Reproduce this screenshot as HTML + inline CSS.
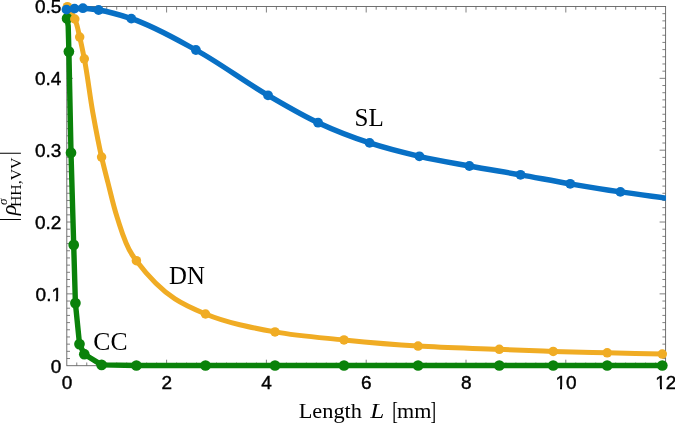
<!DOCTYPE html>
<html lang="en"><head><meta charset="utf-8"><title>Plot</title>
<style>html,body{margin:0;padding:0;background:#fff}body{width:675px;height:423px;overflow:hidden}svg{display:block}</style>
</head><body>
<svg width="675" height="423" viewBox="0 0 675 423">
<rect width="675" height="423" fill="#fff"/>
<path d="M76.78 365.70 v-3.20 M76.78 6.50 v3.20 M86.76 365.70 v-3.20 M86.76 6.50 v3.20 M96.74 365.70 v-3.20 M96.74 6.50 v3.20 M106.72 365.70 v-3.20 M106.72 6.50 v3.20 M116.70 365.70 v-3.20 M116.70 6.50 v3.20 M126.68 365.70 v-3.20 M126.68 6.50 v3.20 M136.66 365.70 v-3.20 M136.66 6.50 v3.20 M146.64 365.70 v-3.20 M146.64 6.50 v3.20 M156.62 365.70 v-3.20 M156.62 6.50 v3.20 M166.60 365.70 v-6.00 M166.60 6.50 v6.00 M176.58 365.70 v-3.20 M176.58 6.50 v3.20 M186.56 365.70 v-3.20 M186.56 6.50 v3.20 M196.54 365.70 v-3.20 M196.54 6.50 v3.20 M206.52 365.70 v-3.20 M206.52 6.50 v3.20 M216.50 365.70 v-3.20 M216.50 6.50 v3.20 M226.48 365.70 v-3.20 M226.48 6.50 v3.20 M236.46 365.70 v-3.20 M236.46 6.50 v3.20 M246.44 365.70 v-3.20 M246.44 6.50 v3.20 M256.42 365.70 v-3.20 M256.42 6.50 v3.20 M266.40 365.70 v-6.00 M266.40 6.50 v6.00 M276.38 365.70 v-3.20 M276.38 6.50 v3.20 M286.36 365.70 v-3.20 M286.36 6.50 v3.20 M296.34 365.70 v-3.20 M296.34 6.50 v3.20 M306.32 365.70 v-3.20 M306.32 6.50 v3.20 M316.30 365.70 v-3.20 M316.30 6.50 v3.20 M326.28 365.70 v-3.20 M326.28 6.50 v3.20 M336.26 365.70 v-3.20 M336.26 6.50 v3.20 M346.24 365.70 v-3.20 M346.24 6.50 v3.20 M356.22 365.70 v-3.20 M356.22 6.50 v3.20 M366.20 365.70 v-6.00 M366.20 6.50 v6.00 M376.18 365.70 v-3.20 M376.18 6.50 v3.20 M386.16 365.70 v-3.20 M386.16 6.50 v3.20 M396.14 365.70 v-3.20 M396.14 6.50 v3.20 M406.12 365.70 v-3.20 M406.12 6.50 v3.20 M416.10 365.70 v-3.20 M416.10 6.50 v3.20 M426.08 365.70 v-3.20 M426.08 6.50 v3.20 M436.06 365.70 v-3.20 M436.06 6.50 v3.20 M446.04 365.70 v-3.20 M446.04 6.50 v3.20 M456.02 365.70 v-3.20 M456.02 6.50 v3.20 M466.00 365.70 v-6.00 M466.00 6.50 v6.00 M475.98 365.70 v-3.20 M475.98 6.50 v3.20 M485.96 365.70 v-3.20 M485.96 6.50 v3.20 M495.94 365.70 v-3.20 M495.94 6.50 v3.20 M505.92 365.70 v-3.20 M505.92 6.50 v3.20 M515.90 365.70 v-3.20 M515.90 6.50 v3.20 M525.88 365.70 v-3.20 M525.88 6.50 v3.20 M535.86 365.70 v-3.20 M535.86 6.50 v3.20 M545.84 365.70 v-3.20 M545.84 6.50 v3.20 M555.82 365.70 v-3.20 M555.82 6.50 v3.20 M565.80 365.70 v-6.00 M565.80 6.50 v6.00 M575.78 365.70 v-3.20 M575.78 6.50 v3.20 M585.76 365.70 v-3.20 M585.76 6.50 v3.20 M595.74 365.70 v-3.20 M595.74 6.50 v3.20 M605.72 365.70 v-3.20 M605.72 6.50 v3.20 M615.70 365.70 v-3.20 M615.70 6.50 v3.20 M625.68 365.70 v-3.20 M625.68 6.50 v3.20 M635.66 365.70 v-3.20 M635.66 6.50 v3.20 M645.64 365.70 v-3.20 M645.64 6.50 v3.20 M655.62 365.70 v-3.20 M655.62 6.50 v3.20 M66.80 358.52 h3.20 M665.60 358.52 h-3.20 M66.80 351.33 h3.20 M665.60 351.33 h-3.20 M66.80 344.15 h3.20 M665.60 344.15 h-3.20 M66.80 336.96 h3.20 M665.60 336.96 h-3.20 M66.80 329.78 h3.20 M665.60 329.78 h-3.20 M66.80 322.60 h3.20 M665.60 322.60 h-3.20 M66.80 315.41 h3.20 M665.60 315.41 h-3.20 M66.80 308.23 h3.20 M665.60 308.23 h-3.20 M66.80 301.04 h3.20 M665.60 301.04 h-3.20 M66.80 293.86 h6.00 M665.60 293.86 h-6.00 M66.80 286.68 h3.20 M665.60 286.68 h-3.20 M66.80 279.49 h3.20 M665.60 279.49 h-3.20 M66.80 272.31 h3.20 M665.60 272.31 h-3.20 M66.80 265.12 h3.20 M665.60 265.12 h-3.20 M66.80 257.94 h3.20 M665.60 257.94 h-3.20 M66.80 250.76 h3.20 M665.60 250.76 h-3.20 M66.80 243.57 h3.20 M665.60 243.57 h-3.20 M66.80 236.39 h3.20 M665.60 236.39 h-3.20 M66.80 229.20 h3.20 M665.60 229.20 h-3.20 M66.80 222.02 h6.00 M665.60 222.02 h-6.00 M66.80 214.84 h3.20 M665.60 214.84 h-3.20 M66.80 207.65 h3.20 M665.60 207.65 h-3.20 M66.80 200.47 h3.20 M665.60 200.47 h-3.20 M66.80 193.28 h3.20 M665.60 193.28 h-3.20 M66.80 186.10 h3.20 M665.60 186.10 h-3.20 M66.80 178.92 h3.20 M665.60 178.92 h-3.20 M66.80 171.73 h3.20 M665.60 171.73 h-3.20 M66.80 164.55 h3.20 M665.60 164.55 h-3.20 M66.80 157.36 h3.20 M665.60 157.36 h-3.20 M66.80 150.18 h6.00 M665.60 150.18 h-6.00 M66.80 143.00 h3.20 M665.60 143.00 h-3.20 M66.80 135.81 h3.20 M665.60 135.81 h-3.20 M66.80 128.63 h3.20 M665.60 128.63 h-3.20 M66.80 121.44 h3.20 M665.60 121.44 h-3.20 M66.80 114.26 h3.20 M665.60 114.26 h-3.20 M66.80 107.08 h3.20 M665.60 107.08 h-3.20 M66.80 99.89 h3.20 M665.60 99.89 h-3.20 M66.80 92.71 h3.20 M665.60 92.71 h-3.20 M66.80 85.52 h3.20 M665.60 85.52 h-3.20 M66.80 78.34 h6.00 M665.60 78.34 h-6.00 M66.80 71.16 h3.20 M665.60 71.16 h-3.20 M66.80 63.97 h3.20 M665.60 63.97 h-3.20 M66.80 56.79 h3.20 M665.60 56.79 h-3.20 M66.80 49.60 h3.20 M665.60 49.60 h-3.20 M66.80 42.42 h3.20 M665.60 42.42 h-3.20 M66.80 35.24 h3.20 M665.60 35.24 h-3.20 M66.80 28.05 h3.20 M665.60 28.05 h-3.20 M66.80 20.87 h3.20 M665.60 20.87 h-3.20 M66.80 13.68 h3.20 M665.60 13.68 h-3.20" stroke="#626262" stroke-width="0.8" fill="none"/>
<rect x="66.80" y="6.50" width="598.80" height="359.20" fill="none" stroke="#626262" stroke-width="0.9"/>
<g fill="none" stroke-linejoin="round" stroke-linecap="round">
<path d="M67.10 18.40 L68.20 26.00 L68.90 51.60 L71.00 152.70 L73.70 244.90 L75.40 303.10 L79.50 344.10 L84.30 354.20 L101.60 364.90 L136.40 365.50 L205.50 365.50 L275.00 365.50 L344.00 365.50 L418.10 365.50 L499.30 365.50 L553.20 365.50 L607.20 365.50 L662.30 365.50" stroke="#0a820a" stroke-width="5.4"/>
<path d="M67.40 6.70 C69.87 10.80 72.86 14.68 74.80 19.00 C77.33 24.65 78.22 31.03 79.70 37.10 C81.45 44.28 82.88 51.55 84.30 58.80 C87.79 76.58 89.60 94.67 92.80 112.50 C95.48 127.41 98.21 142.33 101.60 157.10 C103.55 165.60 105.74 174.05 107.90 182.50 C110.89 194.20 113.43 206.05 117.20 217.50 C121.40 230.28 124.85 243.83 132.30 255.00 C133.59 256.94 135.00 258.83 136.40 260.70 C147.23 275.17 160.07 289.06 175.00 298.90 C184.36 305.07 195.07 309.68 205.50 314.00 C227.49 323.12 251.53 327.57 275.00 331.90 C297.72 336.10 320.96 337.59 344.00 339.90 C368.66 342.37 393.37 344.55 418.10 346.10 C445.13 347.79 472.23 348.24 499.30 349.30 C517.27 350.00 535.23 350.82 553.20 351.40 C571.20 351.98 589.20 352.35 607.20 352.80 C625.57 353.25 643.93 353.67 662.30 354.10" stroke="#f0ac24" stroke-width="5.0"/>
<clipPath id="cp"><rect x="0" y="0" width="665.90" height="423"/></clipPath>
<path clip-path="url(#cp)" d="M66.50 9.60 C69.17 9.27 71.82 8.83 74.50 8.60 C77.29 8.36 80.11 8.18 82.90 8.20 C88.15 8.24 93.41 9.16 98.60 10.00 C109.70 11.79 120.64 15.07 131.30 18.60 C153.94 26.09 174.94 38.49 195.90 50.00 C220.74 63.64 243.45 81.09 268.00 95.30 C284.47 104.83 300.88 114.68 318.10 122.70 C334.78 130.47 352.10 137.17 369.60 142.90 C385.91 148.24 402.66 152.43 419.40 156.30 C435.93 160.12 452.70 162.94 469.40 166.00 C486.40 169.11 503.48 171.79 520.50 174.80 C537.08 177.73 553.61 180.96 570.20 183.80 C586.91 186.66 603.64 189.41 620.40 191.90 C636.24 194.25 652.13 196.23 668.00 198.40" stroke="#0870c5" stroke-width="5.4"/>
</g>
<g fill="#0a820a"><circle cx="67.10" cy="18.40" r="5.35"/><circle cx="68.90" cy="51.60" r="5.35"/><circle cx="71.00" cy="152.70" r="5.35"/><circle cx="73.70" cy="244.90" r="5.35"/><circle cx="75.40" cy="303.10" r="5.35"/><circle cx="79.50" cy="344.10" r="5.35"/><circle cx="84.30" cy="354.20" r="5.35"/><circle cx="101.60" cy="364.90" r="5.35"/><circle cx="136.40" cy="365.50" r="5.35"/><circle cx="205.50" cy="365.50" r="5.35"/><circle cx="275.00" cy="365.50" r="5.35"/><circle cx="344.00" cy="365.50" r="5.35"/><circle cx="418.10" cy="365.50" r="5.35"/><circle cx="499.30" cy="365.50" r="5.35"/><circle cx="553.20" cy="365.50" r="5.35"/><circle cx="607.20" cy="365.50" r="5.35"/><circle cx="662.30" cy="365.50" r="5.35"/></g>
<g fill="#f0ac24"><circle cx="67.40" cy="6.70" r="4.75"/><circle cx="74.80" cy="19.00" r="4.75"/><circle cx="79.70" cy="37.10" r="4.75"/><circle cx="84.30" cy="58.80" r="4.75"/><circle cx="101.60" cy="157.10" r="4.75"/><circle cx="136.40" cy="260.70" r="4.75"/><circle cx="205.50" cy="314.00" r="4.75"/><circle cx="275.00" cy="331.90" r="4.75"/><circle cx="344.00" cy="339.90" r="4.75"/><circle cx="418.10" cy="346.10" r="4.75"/><circle cx="499.30" cy="349.30" r="4.75"/><circle cx="553.20" cy="351.40" r="4.75"/><circle cx="607.20" cy="352.80" r="4.75"/><circle cx="662.30" cy="354.10" r="4.75"/></g>
<g fill="#0870c5"><circle cx="66.50" cy="9.60" r="4.9"/><circle cx="74.50" cy="8.60" r="4.9"/><circle cx="82.90" cy="8.20" r="4.9"/><circle cx="98.60" cy="10.00" r="4.9"/><circle cx="131.30" cy="18.60" r="4.9"/><circle cx="195.90" cy="50.00" r="4.9"/><circle cx="268.00" cy="95.30" r="4.9"/><circle cx="318.10" cy="122.70" r="4.9"/><circle cx="369.60" cy="142.90" r="4.9"/><circle cx="419.40" cy="156.30" r="4.9"/><circle cx="469.40" cy="166.00" r="4.9"/><circle cx="520.50" cy="174.80" r="4.9"/><circle cx="570.20" cy="183.80" r="4.9"/><circle cx="620.40" cy="191.90" r="4.9"/></g>
<g font-family="Liberation Sans, Arial, Helvetica, sans-serif" font-size="19.0" fill="#000" stroke="#000" stroke-width="0.42" text-anchor="end">
<text x="61.30" y="372.70">0</text>
<text x="62.00" y="300.86">0.1</text>
<text x="61.30" y="229.02">0.2</text>
<text x="61.30" y="157.18">0.3</text>
<text x="61.30" y="85.34">0.4</text>
<text x="61.30" y="13.10">0.5</text>
</g>
<g font-family="Liberation Sans, Arial, Helvetica, sans-serif" font-size="19.0" fill="#000" stroke="#000" stroke-width="0.42" text-anchor="middle">
<text x="67.00" y="389.3">0</text>
<text x="166.80" y="389.3">2</text>
<text x="266.60" y="389.3">4</text>
<text x="366.40" y="389.3">6</text>
<text x="466.20" y="389.3">8</text>
<text x="566.00" y="389.3">10</text>
<text x="665.80" y="389.3">12</text>
</g>
<path d="M51.7 298.4h4v3.8h-4zM57.9 298.4h4.8v3.8h-4.8zM555.5 386.5h4.5v3.6h-4.5zM562 386.5h4.2v3.6h-4.2zM655.5 386.5h4.5v3.6h-4.5zM662 386.5h3.9v3.6h-3.9z" fill="#fff"/>
<g font-family="Liberation Serif, Times New Roman, serif" fill="#000" font-size="25">
<text x="354.6" y="126.0" textLength="29.2" lengthAdjust="spacingAndGlyphs">SL</text>
<text x="169.0" y="284.4" textLength="35.8" lengthAdjust="spacingAndGlyphs">DN</text>
<text x="93.3" y="349.6" textLength="34.2" lengthAdjust="spacingAndGlyphs">CC</text>
</g>
<text font-family="Liberation Serif, Times New Roman, serif" fill="#000" font-size="21.5" y="417.6"><tspan x="298.7" textLength="63.3" lengthAdjust="spacingAndGlyphs">Length</tspan> <tspan x="370.2" font-style="italic" textLength="14" lengthAdjust="spacingAndGlyphs">L</tspan> <tspan x="392.2" font-size="25.2" dy="0.9" textLength="5.6" lengthAdjust="spacingAndGlyphs">[</tspan><tspan x="397.0" dy="-0.9" textLength="34.3" lengthAdjust="spacingAndGlyphs">mm</tspan><tspan x="430.4" font-size="25.2" dy="0.9" textLength="5.6" lengthAdjust="spacingAndGlyphs">]</tspan></text>
<g transform="translate(15.5 219.5) rotate(-90)" font-family="Liberation Serif, Times New Roman, serif" fill="#000">
<path d="M0 -16.2V5.4M66.3 -16.2V5.4" stroke="#000" stroke-width="1.1" fill="none"/>
<text x="4.3" y="0" font-size="20.6" font-style="italic" textLength="10.6" lengthAdjust="spacingAndGlyphs">ρ</text>
<text x="14.6" y="-8.1" font-size="13.5" font-style="italic" textLength="6.4" lengthAdjust="spacingAndGlyphs">σ</text>
<text x="12.4" y="5.3" font-size="15.4" textLength="49.6" lengthAdjust="spacingAndGlyphs">HH,VV</text>
</g>
</svg>
</body></html>
